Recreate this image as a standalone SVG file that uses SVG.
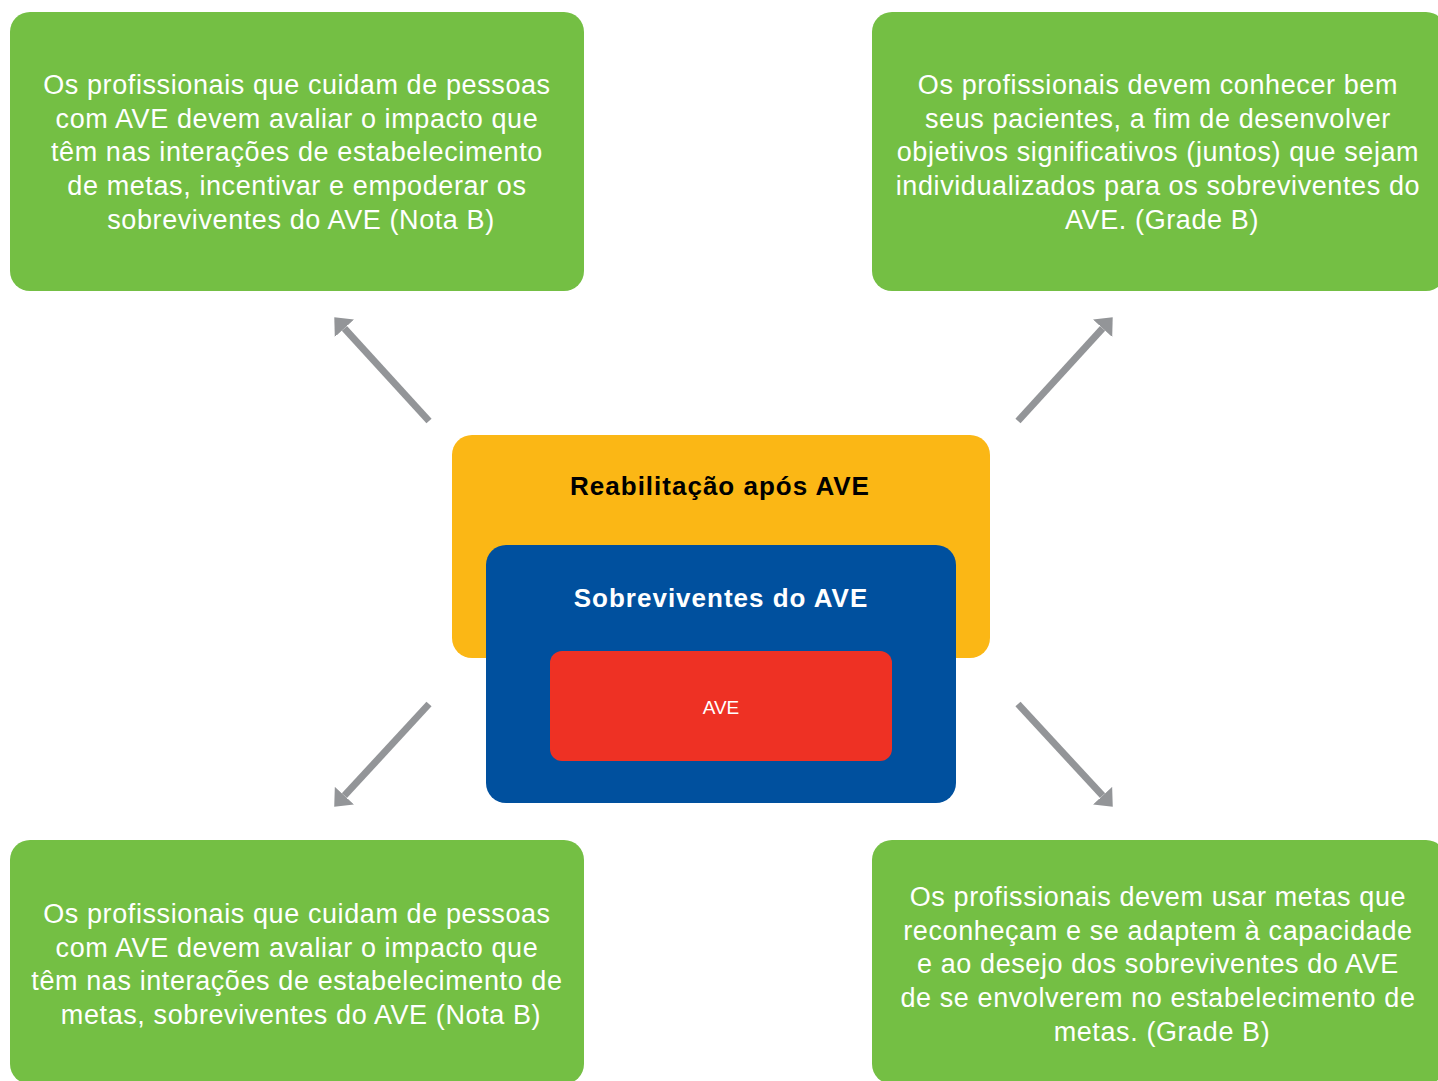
<svg xmlns="http://www.w3.org/2000/svg" width="1438" height="1081" viewBox="0 0 1438 1081">
  <style>
    .note { fill: #74BF44; }
    .note-text { font-family: "Liberation Sans", Arial, sans-serif; font-size: 27px; letter-spacing: 0.6px; fill: #FFFFFF; text-anchor: middle; }
    .title { font-family: "Liberation Sans", Arial, sans-serif; font-weight: bold; font-size: 26px; letter-spacing: 1px; text-anchor: middle; }
    .link { stroke: #939598; stroke-width: 7; fill: none; marker-end: url(#head); }
  </style>
  <defs>
    <marker id="head" markerUnits="userSpaceOnUse" viewBox="0 -14 16 28" markerWidth="16" markerHeight="28" refX="0" refY="0" orient="auto">
      <path d="M0,-13 L15,0 L0,13 Z" fill="#939598"/>
    </marker>
  </defs>
  <rect width="1438" height="1081" fill="#FFFFFF"/>

  <!-- centre: nested context boxes -->
  <g id="reabilitacao">
    <rect x="452" y="435" width="538" height="223" rx="20" fill="#FBB715"/>
    <text class="title" x="720" y="495" fill="#000000">Reabilitação após AVE</text>
  </g>
  <g id="sobreviventes">
    <rect x="486" y="545" width="470" height="258" rx="20" fill="#00509E"/>
    <text class="title" x="721" y="607" fill="#FFFFFF">Sobreviventes do AVE</text>
  </g>
  <g id="ave">
    <rect x="550" y="651" width="342" height="110" rx="12" fill="#EE3124"/>
    <text x="721" y="714" font-family="Liberation Sans, Arial, sans-serif" font-size="19" fill="#FFFFFF" text-anchor="middle">AVE</text>
  </g>

  <!-- connectors from the centre out to the four notes -->
  <g id="connectors">
    <path class="link" d="M429,421 L344.4,328.3"/>
    <path class="link" d="M1018,421 L1102.6,328.3"/>
    <path class="link" d="M429,704 L344.4,795.7"/>
    <path class="link" d="M1018,704 L1102.6,795.7"/>
  </g>

  <!-- recommendation notes -->
  <g id="note-top-left">
    <rect class="note" x="10" y="12" width="574" height="279" rx="20"/>
    <text class="note-text">
      <tspan x="301" y="94">Os profissionais que cuidam de pessoas</tspan>
      <tspan x="301" y="128">com AVE devem avaliar o impacto que</tspan>
      <tspan x="301" y="161">têm nas interações de estabelecimento</tspan>
      <tspan x="301" y="195">de metas, incentivar e empoderar os</tspan>
      <tspan x="301" y="229">sobreviventes do AVE (Nota B)</tspan>
    </text>
  </g>
  <g id="note-top-right">
    <rect class="note" x="872" y="12" width="574" height="279" rx="20"/>
    <text class="note-text">
      <tspan x="1162" y="94">Os profissionais devem conhecer bem</tspan>
      <tspan x="1162" y="128">seus pacientes, a fim de desenvolver</tspan>
      <tspan x="1162" y="161">objetivos significativos (juntos) que sejam</tspan>
      <tspan x="1162" y="195">individualizados para os sobreviventes do</tspan>
      <tspan x="1162" y="229">AVE. (Grade B)</tspan>
    </text>
  </g>
  <g id="note-bottom-left">
    <rect class="note" x="10" y="840" width="574" height="244" rx="20"/>
    <text class="note-text">
      <tspan x="301" y="923">Os profissionais que cuidam de pessoas</tspan>
      <tspan x="301" y="957">com AVE devem avaliar o impacto que</tspan>
      <tspan x="301" y="990">têm nas interações de estabelecimento de</tspan>
      <tspan x="301" y="1024">metas, sobreviventes do AVE (Nota B)</tspan>
    </text>
  </g>
  <g id="note-bottom-right">
    <rect class="note" x="872" y="840" width="574" height="244" rx="20"/>
    <text class="note-text">
      <tspan x="1162" y="906">Os profissionais devem usar metas que</tspan>
      <tspan x="1162" y="940">reconheçam e se adaptem à capacidade</tspan>
      <tspan x="1162" y="973">e ao desejo dos sobreviventes do AVE</tspan>
      <tspan x="1162" y="1007">de se envolverem no estabelecimento de</tspan>
      <tspan x="1162" y="1041">metas. (Grade B)</tspan>
    </text>
  </g>
</svg>
